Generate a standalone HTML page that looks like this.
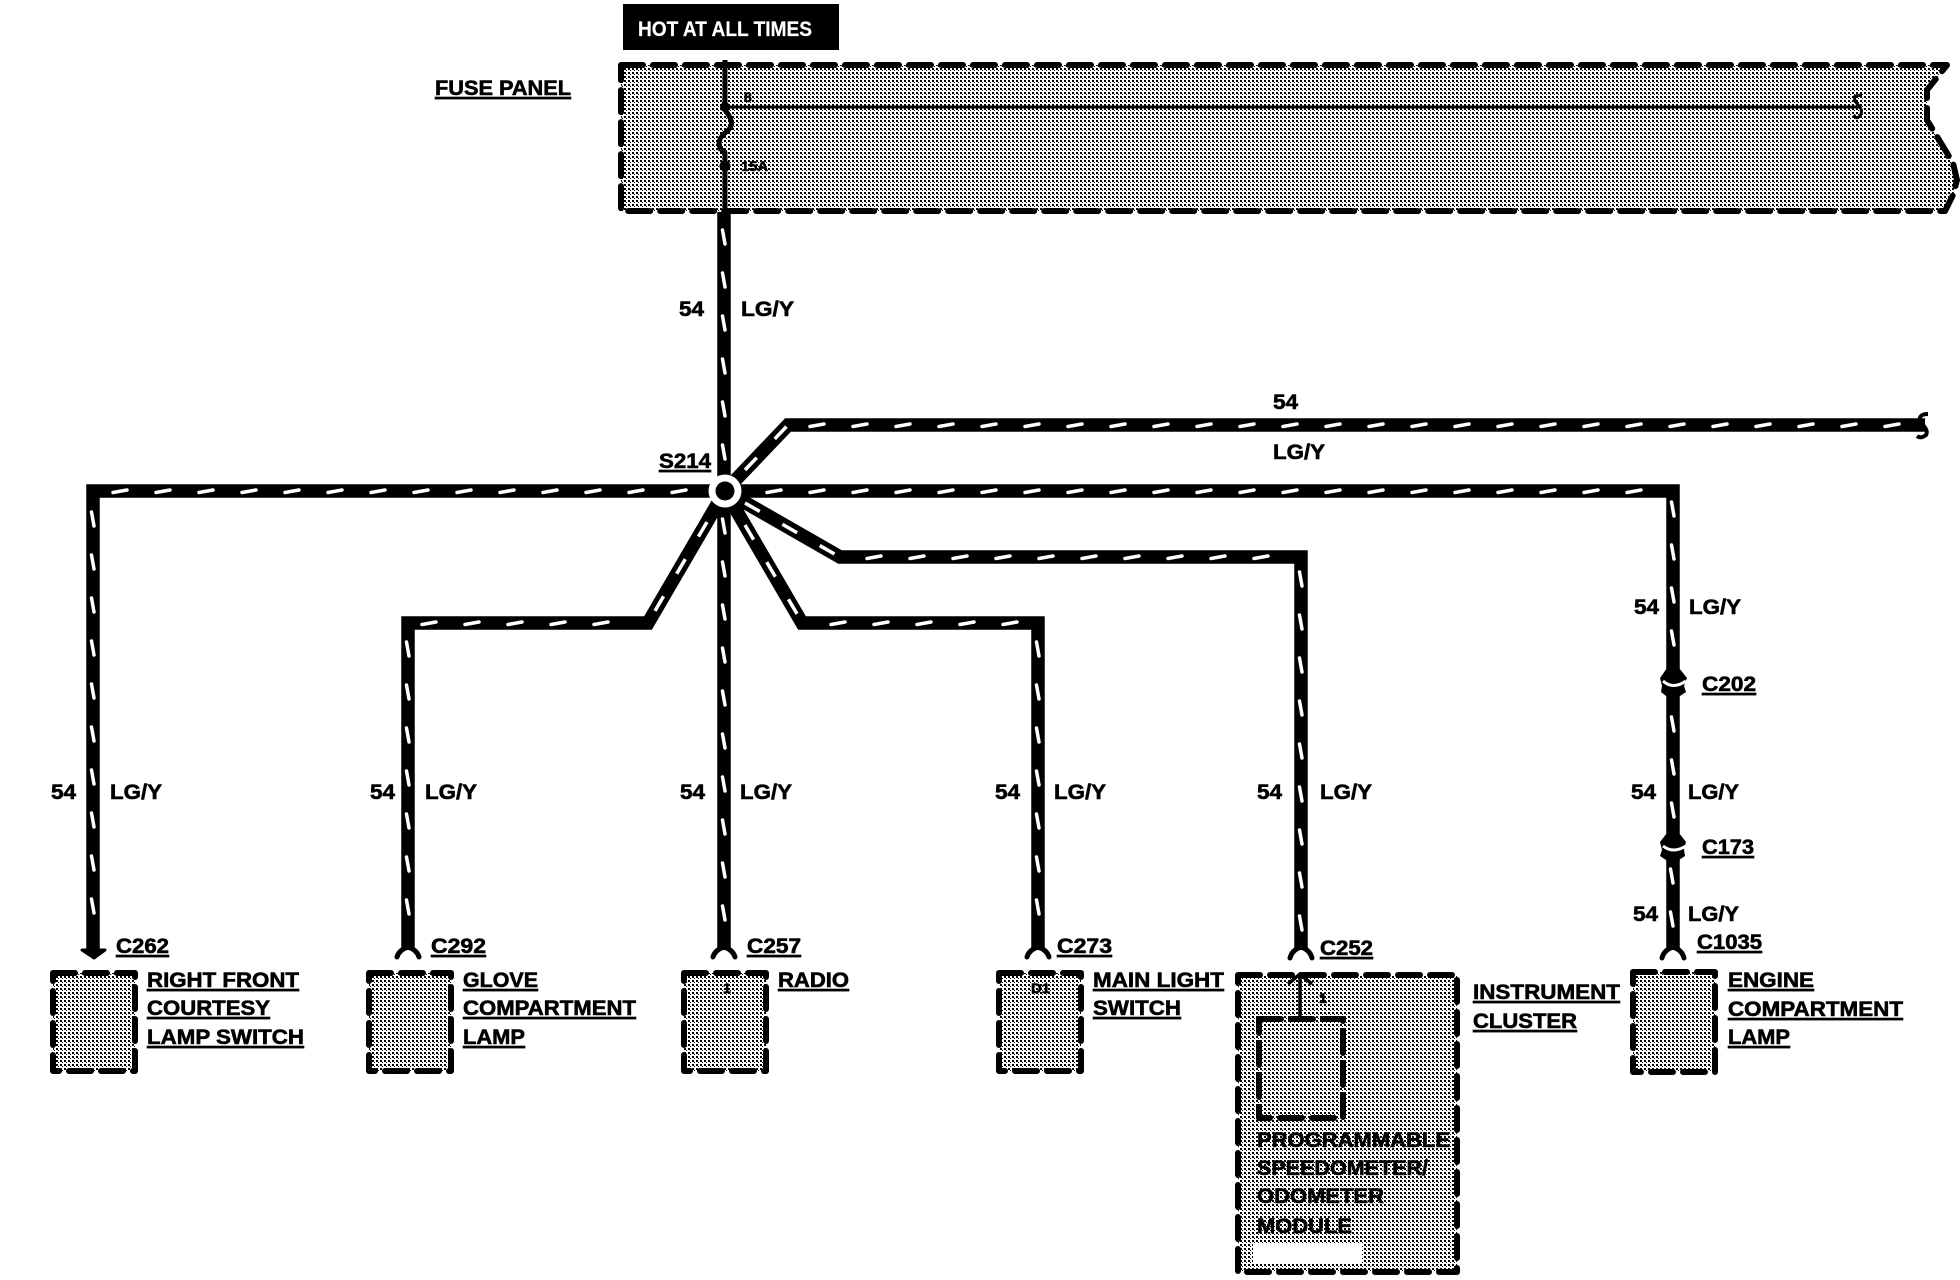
<!DOCTYPE html>
<html><head><meta charset="utf-8"><style>
html,body{margin:0;padding:0;background:#fff}
svg{display:block}
text{font-family:"Liberation Sans",sans-serif;font-weight:bold;font-size:21px;fill:#000;stroke:#000;stroke-width:.6px}
.u{text-decoration:underline;text-decoration-thickness:2.5px;text-underline-offset:2px}
.s{font-size:14px}
.b{fill:url(#dot);stroke:#000;stroke-width:6;stroke-dasharray:22 10;stroke-linejoin:round;stroke-linecap:round}
.w{fill:none;stroke:#000;stroke-width:13.5;stroke-linejoin:miter}
.d{fill:none;stroke:#fff;stroke-width:3.5;stroke-dasharray:17 26}
.f{fill:none;stroke:#000;stroke-width:5;stroke-linecap:round}
</style></head><body>
<svg width="1960" height="1280" viewBox="0 0 1960 1280" xmlns="http://www.w3.org/2000/svg">
<defs>
<pattern id="dot" patternUnits="userSpaceOnUse" width="4" height="4" shape-rendering="crispEdges"><rect width="4" height="4" fill="#fff"/><rect width="2" height="2" fill="#000"/><rect x="2" y="2" width="1" height="1" fill="#000"/></pattern>
<pattern id="h" patternUnits="userSpaceOnUse" width="43" height="13"><path d="M2,8 L16,5.5" stroke="#fff" stroke-width="3.5" stroke-linecap="round"/></pattern>
<pattern id="v" patternUnits="userSpaceOnUse" width="13" height="43"><path d="M5,2 L7.5,16" stroke="#fff" stroke-width="3.5" stroke-linecap="round"/></pattern>
</defs>

<!-- header -->
<rect x="623" y="4" width="216" height="46" fill="#000"/>
<text x="638" y="36" style="fill:#fff;stroke:#fff;stroke-width:.2px" textLength="174" lengthAdjust="spacingAndGlyphs">HOT AT ALL TIMES</text>
<text class="u" x="435" y="95" textLength="136" lengthAdjust="spacingAndGlyphs">FUSE PANEL</text>

<!-- fuse panel -->
<path class="b" d="M621,65 L1947,65 L1927,90 L1927,120 L1953,163 L1957,180 L1953,195 L1945,211 L621,211 Z"/>
<path d="M725,60 L725,110 C735,122 732,128 725,133 C717,140 717,147 725,153 L725,212" fill="none" stroke="#000" stroke-width="5"/>
<path d="M725,107 L1855,107" fill="none" stroke="#000" stroke-width="3"/>
<circle cx="725" cy="107" r="5"/>
<circle cx="725" cy="166" r="5.5"/>
<path d="M1855,107 L1860,107 Q1863,112 1860,116 Q1856,120 1854,115 M1860,107 Q1853,100 1855,96 L1862,95" fill="none" stroke="#000" stroke-width="3"/>
<text class="s" x="744" y="102">8</text>
<text class="s" x="741" y="171" textLength="27" lengthAdjust="spacingAndGlyphs">15A</text>

<!-- wires -->
<path class="w" d="M724,212 L724,950"/>
<path class="w" d="M725,491 L788,425 L1925,425"/>
<path class="w" d="M725,491 L93,491 L93,950"/>
<path class="w" d="M725,491 L1673,491 L1673,950"/>
<path class="w" d="M725,491 L648,623 L408,623 L408,950"/>
<path class="w" d="M725,491 L802,623 L1038,623 L1038,950"/>
<path class="w" d="M725,491 L840,557 L1301,557 L1301,950"/>

<!-- tracer horizontal -->
<rect transform="translate(111,484.5)" width="589" height="13" fill="url(#h)"/>
<rect transform="translate(765,484.5)" width="895" height="13" fill="url(#h)"/>
<rect transform="translate(808,418.5)" width="1102" height="13" fill="url(#h)"/>
<rect transform="translate(865,550.5)" width="425" height="13" fill="url(#h)"/>
<rect transform="translate(829,616.5)" width="195" height="13" fill="url(#h)"/>
<rect transform="translate(420,616.5)" width="215" height="13" fill="url(#h)"/>
<!-- tracer vertical -->
<rect transform="translate(717.5,228)" width="13" height="242" fill="url(#v)"/>
<rect transform="translate(717.5,517)" width="13" height="425" fill="url(#v)"/>
<rect transform="translate(86.5,510)" width="13" height="430" fill="url(#v)"/>
<rect transform="translate(401.5,640)" width="13" height="300" fill="url(#v)"/>
<rect transform="translate(1031.5,640)" width="13" height="300" fill="url(#v)"/>
<rect transform="translate(1294.5,570)" width="13" height="370" fill="url(#v)"/>
<rect transform="translate(1666.5,500)" width="13" height="165" fill="url(#v)"/>
<rect transform="translate(1666.5,715)" width="13" height="125" fill="url(#v)"/>
<rect transform="translate(1665.5,867)" width="13" height="70" fill="url(#v)"/>
<!-- tracer diagonal -->
<path class="d" d="M745,470 L788,425"/>
<path class="d" d="M707,522 L652,616"/>
<path class="d" d="M745,525 L800,619"/>
<path class="d" d="M745,503 L838,556"/>

<!-- splice -->
<circle cx="725" cy="491" r="16.5" fill="#fff"/>
<circle cx="725" cy="491" r="9.5" fill="#000"/>
<text class="u" x="659" y="468" textLength="52" lengthAdjust="spacingAndGlyphs">S214</text>

<!-- far-right break -->
<path d="M1917,425 L1924,425 M1928,414 Q1918,414 1920,422 Q1929,430 1926,435 Q1921,439 1917,436" fill="none" stroke="#000" stroke-width="4"/>

<!-- terminals -->
<path d="M82,950 L105,950 L94,958 Z" stroke="#000" stroke-width="3" stroke-linejoin="round"/>
<path class="f" d="M397,957 Q399,950 408,947 Q417,950 419,957"/>
<path class="f" d="M713,957 Q715,950 724,947 Q733,950 735,957"/>
<path class="f" d="M1027,957 Q1029,950 1038,947 Q1047,950 1049,957"/>
<path class="f" d="M1290,958 Q1292,950 1301,947 Q1310,950 1312,958"/>
<path class="f" d="M1662,958 Q1664,950 1673,947 Q1682,950 1684,958"/>

<!-- inline connectors -->
<path d="M1667,668 L1679,668 L1687,678 L1684,686 L1686,692 L1680,696 L1666,696 L1661,692 L1662,686 L1660,678 Z"/>
<path d="M1663,681 Q1673,690 1686,681" fill="none" stroke="#fff" stroke-width="3"/>
<path d="M1667,833 L1679,833 L1686,842 L1684,850 L1685,856 L1679,860 L1666,860 L1660,856 L1662,850 L1660,842 Z"/>
<path d="M1663,846 Q1673,854 1686,846" fill="none" stroke="#fff" stroke-width="3"/>

<!-- component boxes -->
<rect class="b" x="53" y="973" width="82" height="98"/>
<rect class="b" x="369" y="973" width="82" height="98"/>
<rect class="b" x="684" y="973" width="82" height="98"/>
<rect class="b" x="999" y="973" width="82" height="98"/>
<rect class="b" x="1633" y="972" width="82" height="100"/>
<rect class="b" x="1238" y="975" width="219" height="297"/>
<rect class="b" x="1259" y="1019" width="84" height="99"/>
<rect x="1253" y="1243" width="109" height="20" fill="#fff"/>
<path d="M1300,1017 L1300,974 M1288,984 L1300,974 L1312,984" fill="none" stroke="#000" stroke-width="3.5"/>

<!-- pin labels -->
<text class="s" x="723" y="993">1</text>
<text class="s" x="1031" y="993" textLength="19" lengthAdjust="spacingAndGlyphs">D1</text>
<text class="s" x="1319" y="1003">1</text>

<!-- wire labels -->
<text x="679" y="316" textLength="25" lengthAdjust="spacingAndGlyphs">54</text>
<text x="741" y="316" textLength="53" lengthAdjust="spacingAndGlyphs">LG/Y</text>
<text x="1273" y="409" textLength="25" lengthAdjust="spacingAndGlyphs">54</text>
<text x="1273" y="459" textLength="52" lengthAdjust="spacingAndGlyphs">LG/Y</text>
<text x="51" y="799" textLength="25" lengthAdjust="spacingAndGlyphs">54</text>
<text x="110" y="799" textLength="52" lengthAdjust="spacingAndGlyphs">LG/Y</text>
<text x="370" y="799" textLength="25" lengthAdjust="spacingAndGlyphs">54</text>
<text x="425" y="799" textLength="52" lengthAdjust="spacingAndGlyphs">LG/Y</text>
<text x="680" y="799" textLength="25" lengthAdjust="spacingAndGlyphs">54</text>
<text x="740" y="799" textLength="52" lengthAdjust="spacingAndGlyphs">LG/Y</text>
<text x="995" y="799" textLength="25" lengthAdjust="spacingAndGlyphs">54</text>
<text x="1054" y="799" textLength="52" lengthAdjust="spacingAndGlyphs">LG/Y</text>
<text x="1257" y="799" textLength="25" lengthAdjust="spacingAndGlyphs">54</text>
<text x="1320" y="799" textLength="52" lengthAdjust="spacingAndGlyphs">LG/Y</text>
<text x="1631" y="799" textLength="25" lengthAdjust="spacingAndGlyphs">54</text>
<text x="1688" y="799" textLength="51" lengthAdjust="spacingAndGlyphs">LG/Y</text>
<text x="1634" y="614" textLength="25" lengthAdjust="spacingAndGlyphs">54</text>
<text x="1689" y="614" textLength="52" lengthAdjust="spacingAndGlyphs">LG/Y</text>
<text x="1633" y="921" textLength="25" lengthAdjust="spacingAndGlyphs">54</text>
<text x="1688" y="921" textLength="51" lengthAdjust="spacingAndGlyphs">LG/Y</text>

<!-- connector labels -->
<text class="u" x="116" y="953" textLength="53" lengthAdjust="spacingAndGlyphs">C262</text>
<text class="u" x="431" y="953" textLength="55" lengthAdjust="spacingAndGlyphs">C292</text>
<text class="u" x="747" y="953" textLength="54" lengthAdjust="spacingAndGlyphs">C257</text>
<text class="u" x="1057" y="953" textLength="55" lengthAdjust="spacingAndGlyphs">C273</text>
<text class="u" x="1320" y="955" textLength="53" lengthAdjust="spacingAndGlyphs">C252</text>
<text class="u" x="1702" y="691" textLength="54" lengthAdjust="spacingAndGlyphs">C202</text>
<text class="u" x="1702" y="854" textLength="52" lengthAdjust="spacingAndGlyphs">C173</text>
<text class="u" x="1697" y="949" textLength="65" lengthAdjust="spacingAndGlyphs">C1035</text>

<!-- component labels -->
<text class="u" x="147" y="987" textLength="152" lengthAdjust="spacingAndGlyphs">RIGHT FRONT</text>
<text class="u" x="147" y="1015" textLength="123" lengthAdjust="spacingAndGlyphs">COURTESY</text>
<text class="u" x="147" y="1044" textLength="157" lengthAdjust="spacingAndGlyphs">LAMP SWITCH</text>
<text class="u" x="463" y="987" textLength="75" lengthAdjust="spacingAndGlyphs">GLOVE</text>
<text class="u" x="463" y="1015" textLength="173" lengthAdjust="spacingAndGlyphs">COMPARTMENT</text>
<text class="u" x="463" y="1044" textLength="62" lengthAdjust="spacingAndGlyphs">LAMP</text>
<text class="u" x="778" y="987" textLength="71" lengthAdjust="spacingAndGlyphs">RADIO</text>
<text class="u" x="1093" y="987" textLength="131" lengthAdjust="spacingAndGlyphs">MAIN LIGHT</text>
<text class="u" x="1093" y="1015" textLength="88" lengthAdjust="spacingAndGlyphs">SWITCH</text>
<text class="u" x="1473" y="999" textLength="147" lengthAdjust="spacingAndGlyphs">INSTRUMENT</text>
<text class="u" x="1473" y="1028" textLength="104" lengthAdjust="spacingAndGlyphs">CLUSTER</text>
<text class="u" x="1728" y="987" textLength="86" lengthAdjust="spacingAndGlyphs">ENGINE</text>
<text class="u" x="1728" y="1016" textLength="175" lengthAdjust="spacingAndGlyphs">COMPARTMENT</text>
<text class="u" x="1728" y="1044" textLength="62" lengthAdjust="spacingAndGlyphs">LAMP</text>
<text x="1257" y="1147" textLength="193" lengthAdjust="spacingAndGlyphs">PROGRAMMABLE</text>
<text x="1257" y="1175" textLength="171" lengthAdjust="spacingAndGlyphs">SPEEDOMETER/</text>
<text x="1257" y="1203" textLength="127" lengthAdjust="spacingAndGlyphs">ODOMETER</text>
<text x="1257" y="1233" textLength="95" lengthAdjust="spacingAndGlyphs">MODULE</text>
</svg>
</body></html>
